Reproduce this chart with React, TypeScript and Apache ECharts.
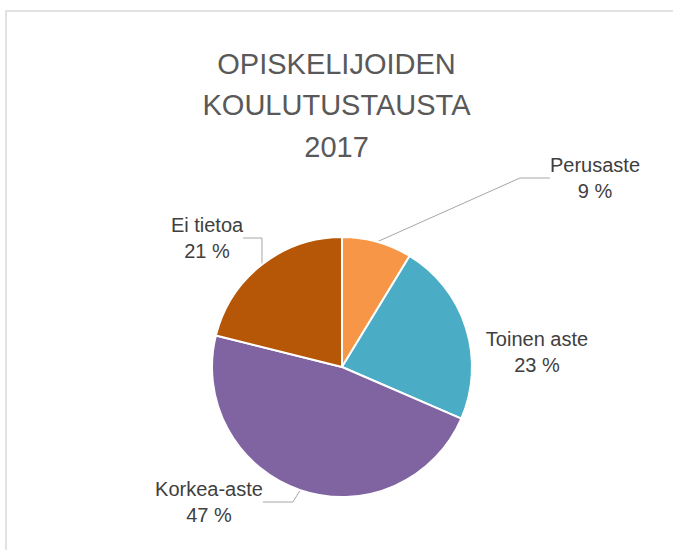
import React, { useEffect, useRef } from "react";
import * as echarts from "echarts";

const categories = ["Perusaste", "Toinen aste", "Korkea-aste", "Ei tietoa"];
const values = [8.7, 22.8, 47.4, 21.1];
const colors = ["#F79646", "#4BACC6", "#8064A2", "#B65708"];
const titleLines = ["OPISKELIJOIDEN", "KOULUTUSTAUSTA", "2017"];

// label anchor (centre) positions in pixels
const labelPos: [number, number][] = [
  [595, 178],
  [537, 352],
  [209, 502],
  [207, 238],
];
const showLine = [true, false, true, true];

export default function App() {
  const ref = useRef<HTMLDivElement>(null);
  useEffect(() => {
    document.body.style.margin = "0";
    const chart = echarts.init(ref.current!, null, { renderer: "svg" });
    chart.setOption({
      animation: false,
      backgroundColor: "#ffffff",
      title: {
        text: titleLines.join("\n"),
        left: "center",
        top: 43,
        padding: [0, 0, 0, 5],
        textStyle: {
          fontFamily: "Liberation Sans",
          fontSize: 29,
          fontWeight: "normal",
          color: "#595959",
          lineHeight: 41.5,
        },
      },
      graphic: [
        {
          type: "rect",
          z: -10,
          shape: { x: 6, y: 11, width: 720, height: 620 },
          style: { fill: "transparent", stroke: "#d9d9d9", lineWidth: 1.5 },
        },
      ],
      series: [
        {
          type: "pie",
          center: [342, 367],
          radius: 130,
          startAngle: 90,
          clockwise: true,
          avoidLabelOverlap: false,
          itemStyle: { borderColor: "#ffffff", borderWidth: 2 },
          label: {
            show: true,
            formatter: (p: any) => `${p.name}\n${Math.round(p.percent)} %`,
            fontFamily: "Liberation Sans",
            fontSize: 20,
            lineHeight: 26,
            color: "#404040",
            align: "center",
          },
          labelLine: {
            show: true,
            lineStyle: { color: "#a6a6a6", width: 1 },
          },
          labelLayout: (params: any) => {
            const pos = labelPos[params.dataIndex];
            return {
              x: pos[0],
              y: pos[1],
              align: "center",
              verticalAlign: "middle",
            };
          },
          data: categories.map((name, i) => ({
            name,
            value: values[i],
            itemStyle: { color: colors[i] },
            labelLine: { show: showLine[i] },
          })),
        },
      ],
    });
    return () => chart.dispose();
  }, []);
  return <div ref={ref} style={{ width: 673, height: 550 }} />;
}
